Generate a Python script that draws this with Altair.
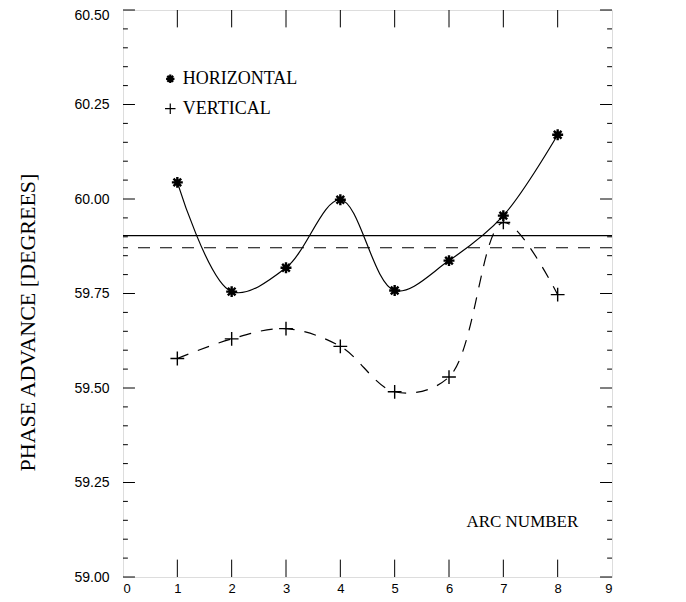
import altair as alt
import pandas as pd

# ---- data ----
arc = [1, 2, 3, 4, 5, 6, 7, 8]
horizontal = [60.044, 59.755, 59.818, 59.998, 59.758, 59.837, 59.956, 60.170]
vertical = [59.578, 59.630, 59.657, 59.610, 59.490, 59.529, 59.938, 59.747]
mean_horizontal = 59.903
mean_vertical = 59.871

x_labels = [0, 1, 2, 3, 4, 5, 6, 7, 8, 9]
x_inner_ticks = [1, 2, 3, 4, 5, 6, 7, 8]
y_major = [59.00, 59.25, 59.50, 59.75, 60.00, 60.25, 60.50]
y_minor = [59.05, 59.10, 59.15, 59.20, 59.30, 59.35, 59.40, 59.45,
           59.55, 59.60, 59.65, 59.70, 59.80, 59.85, 59.90, 59.95,
           60.05, 60.10, 60.15, 60.20, 60.30, 60.35, 60.40, 60.45]

legend_labels = ["HORIZONTAL", "VERTICAL"]
legend_y = [60.318, 60.239]

SERIF = "Liberation Serif"
SANS = "Liberation Sans"
ASTERISK = "M-1,0L1,0M0,-1L0,1M-0.7,-0.7L0.7,0.7M-0.7,0.7L0.7,-0.7"
PLUS = "M-1,0L1,0M0,-1L0,1"

df = pd.DataFrame({"arc": arc, "h": horizontal, "v": vertical})

xs = alt.Scale(domain=[0, 9], nice=False, zero=False)
ys = alt.Scale(domain=[59.0, 60.5], nice=False, zero=False)

xaxis = alt.Axis(values=x_labels, format="d", ticks=False, domain=False, grid=False,
                 labelFont=SANS, labelFontSize=13, labelColor="black", labelPadding=5,
                 title=None)
yaxis = alt.Axis(values=y_major, format=".2f", ticks=False, domain=False, grid=False,
                 labelFont=SANS, labelFontSize=14, labelColor="black", labelPadding=14,
                 labelOffset={"condition": {"test": "datum.value >= 60.5", "value": 5}, "value": 0},
                 title="PHASE ADVANCE [DEGREES]", titleFont=SERIF, titleFontSize=22,
                 titleFontWeight="normal", titleColor="black",
                 titleX=-96, titleY=312, titleAngle=270, titleAlign="center",
                 titleBaseline="middle")

base = alt.Chart(df)
INTERP = "catmull-rom"

h_line = base.mark_line(interpolate=INTERP, color="black", strokeWidth=1.2).encode(
    x=alt.X("arc:Q", scale=xs, axis=xaxis),
    y=alt.Y("h:Q", scale=ys, axis=yaxis),
)
v_line = base.mark_line(interpolate=INTERP, color="black", strokeWidth=1.2,
                        strokeDash=[12, 10]).encode(
    x=alt.X("arc:Q", scale=xs),
    y=alt.Y("v:Q", scale=ys),
)
h_pts = base.mark_point(shape=ASTERISK, size=120, color="black", strokeWidth=2.4,
                        filled=False, opacity=1).encode(
    x=alt.X("arc:Q", scale=xs), y=alt.Y("h:Q", scale=ys))
v_pts = base.mark_point(shape=PLUS, size=190, color="black", strokeWidth=1.4,
                        filled=False, opacity=1).encode(
    x=alt.X("arc:Q", scale=xs), y=alt.Y("v:Q", scale=ys))

means = pd.DataFrame({"m": [mean_horizontal, mean_vertical], "kind": ["h", "v"]})
mean_h_rule = alt.Chart(means[means.kind == "h"]).mark_rule(color="black", strokeWidth=1.4).encode(
    y=alt.Y("m:Q", scale=ys))
mean_v_rule = alt.Chart(means[means.kind == "v"]).mark_rule(color="black", strokeWidth=1.2,
                                                          strokeDash=[12, 10]).encode(
    y=alt.Y("m:Q", scale=ys))

# inward ticks
ymaj = pd.DataFrame({"t": y_major})
ymin = pd.DataFrame({"t": y_minor})
xin = pd.DataFrame({"t": x_inner_ticks})
tick_style = dict(color="black", strokeWidth=1)
left_major = alt.Chart(ymaj).mark_rule(**tick_style).encode(
    y=alt.Y("t:Q", scale=ys), x=alt.datum(0.0), x2=alt.datum(0.22))
left_minor = alt.Chart(ymin).mark_rule(**tick_style).encode(
    y=alt.Y("t:Q", scale=ys), x=alt.datum(0.0), x2=alt.datum(0.09))
right_major = alt.Chart(ymaj).mark_rule(**tick_style).encode(
    y=alt.Y("t:Q", scale=ys), x=alt.datum(9.0), x2=alt.datum(8.78))
right_minor = alt.Chart(ymin).mark_rule(**tick_style).encode(
    y=alt.Y("t:Q", scale=ys), x=alt.datum(9.0), x2=alt.datum(8.91))
bottom_ticks = alt.Chart(xin).mark_rule(**tick_style).encode(
    x=alt.X("t:Q", scale=xs), y=alt.datum(59.0), y2=alt.datum(59.046))
top_ticks = alt.Chart(xin).mark_rule(**tick_style).encode(
    x=alt.X("t:Q", scale=xs), y=alt.datum(60.5), y2=alt.datum(60.454))

# legend inside plot
leg = pd.DataFrame({"label": legend_labels, "y": legend_y})
leg_h = alt.Chart(leg.iloc[[0]]).mark_point(shape=ASTERISK, size=70, color="black",
                                           strokeWidth=2.2, filled=False, opacity=1).encode(
    x=alt.datum(0.87), y=alt.Y("y:Q", scale=ys))
leg_v = alt.Chart(leg.iloc[[1]]).mark_point(shape=PLUS, size=110, color="black",
                                           strokeWidth=1.2, filled=False, opacity=1).encode(
    x=alt.datum(0.87), y=alt.Y("y:Q", scale=ys))
leg_text = alt.Chart(leg).mark_text(align="left", baseline="middle", font=SERIF,
                                    fontSize=18, color="black").encode(
    x=alt.datum(1.10), y=alt.Y("y:Q", scale=ys), text="label:N")

arc_label = alt.Chart(pd.DataFrame({"t": ["ARC NUMBER"]})).mark_text(
    align="center", baseline="middle", font=SERIF, fontSize=17, color="black").encode(
    x=alt.datum(7.35), y=alt.datum(59.145), text="t:N")

chart = alt.layer(
    mean_h_rule, mean_v_rule, h_line, v_line, h_pts, v_pts,
    left_major, left_minor, right_major, right_minor, bottom_ticks, top_ticks,
    leg_h, leg_v, leg_text, arc_label,
).properties(
    width=489, height=567,
    autosize=alt.AutoSizeParams(type="none"),
    padding={"left": 115, "top": 2, "right": 60, "bottom": 20},
).configure_view(stroke="black", strokeWidth=1.5).configure(background="white")

chart.save("out.html", embed_options={"renderer": "svg", "actions": False})
